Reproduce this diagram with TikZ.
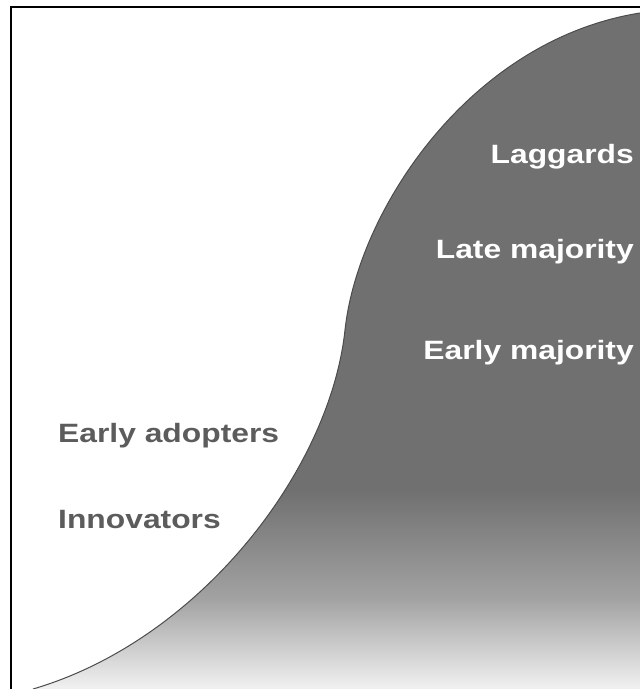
\documentclass[tikz,border=0pt]{standalone}
\usepackage{fontspec}
\newfontfamily\labfont{Liberation Sans}[FakeStretch=1.2]
\definecolor{areadark}{gray}{0.44}
\definecolor{areamid}{gray}{0.64}
\definecolor{arealight}{gray}{0.95}
\definecolor{edgegray}{gray}{0.3}
\definecolor{leftgray}{gray}{0.36}
\tikzset{
  lab/.style={inner sep=0pt, font=\labfont\bfseries\fontsize{26.5}{30}\selectfont},
  rightlab/.style={lab, text=white, anchor=base east},
  leftlab/.style={lab, text=leftgray, anchor=base west},
  frameline/.style={line width=2pt, black},
}
\begin{document}
\begin{tikzpicture}[x=1pt,y=-1pt]
\useasboundingbox (0,0) rectangle (640,689);
\coordinate (c0) at (33,689);
\coordinate (c3) at (345,330);
\coordinate (c6) at (640,13);
\def\curvepath{(c0) .. controls (200,640) and (330,470) .. (c3) .. controls (358,210) and (470,40) .. (c6)}
\begin{scope}
  \clip \curvepath -- (641,13) -- (641,690) -- (33,690) -- cycle;
  \fill[areadark] (0,0) rectangle (641,491);
  \shade[top color=areadark, bottom color=areamid] (0,490) rectangle (641,601);
  \shade[top color=areamid, bottom color=arealight] (0,600) rectangle (641,690);
\end{scope}
\draw[edgegray, line width=1pt] \curvepath;
\draw[frameline] (11,690) -- (11,7) -- (641,7);
\node[rightlab] (laggards) at (634,163) {Laggards};
\node[rightlab] (late) at (634,258) {Late majority};
\node[rightlab] (earlymaj) at (634,359) {Early majority};
\node[leftlab] (adopters) at (58,442) {Early adopters};
\node[leftlab] (innov) at (58,528) {Innovators};
\end{tikzpicture}
\end{document}
